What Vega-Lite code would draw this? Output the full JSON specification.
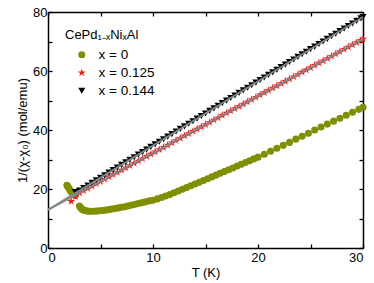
{
  "$schema": "https://vega.github.io/schema/vega-lite/v6.json",
  "width": 315,
  "height": 236,
  "autosize": {"type": "none"},
  "padding": {"left": 48, "top": 12, "right": 11, "bottom": 35},
  "config": {
    "font": "Liberation Sans",
    "view": {"stroke": null},
    "axis": {"domainColor": "black", "domainWidth": 1.5, "tickColor": "black", "tickWidth": 1.3, "labelColor": "black", "titleColor": "black", "labelFontSize": 13, "titleFontSize": 13, "titleFontWeight": "normal", "grid": false}
  },
  "datasets": {
    "fit": [
      {"T": 0, "v": 12.9, "f": "a"}, {"T": 30, "v": 78.3, "f": "a"},
      {"T": 0, "v": 12.9, "f": "b"}, {"T": 30, "v": 70.8, "f": "b"}
    ],
    "pts": [
      {"T": 1.8, "v": 21.3, "s": "x = 0"}, {"T": 1.9, "v": 20.8, "s": "x = 0"}, {"T": 2.0, "v": 20.2, "s": "x = 0"}, {"T": 2.1, "v": 19.6, "s": "x = 0"}, {"T": 2.2, "v": 19.1, "s": "x = 0"}, {"T": 2.3, "v": 18.7, "s": "x = 0"}, {"T": 2.4, "v": 18.4, "s": "x = 0"}, {"T": 2.5, "v": 18.1, "s": "x = 0"}, {"T": 2.6, "v": 17.8, "s": "x = 0"},
      {"T": 3.0, "v": 14.2, "s": "x = 0"}, {"T": 3.1, "v": 13.7, "s": "x = 0"}, {"T": 3.2, "v": 13.3, "s": "x = 0"}, {"T": 3.3, "v": 13.0, "s": "x = 0"}, {"T": 3.45, "v": 12.8, "s": "x = 0"}, {"T": 3.6, "v": 12.6, "s": "x = 0"}, {"T": 3.8, "v": 12.5, "s": "x = 0"}, {"T": 4.0, "v": 12.45, "s": "x = 0"}, {"T": 4.3, "v": 12.45, "s": "x = 0"}, {"T": 4.6, "v": 12.5, "s": "x = 0"}, {"T": 4.9, "v": 12.6, "s": "x = 0"}, {"T": 5.2, "v": 12.7, "s": "x = 0"}, {"T": 5.5, "v": 12.85, "s": "x = 0"}, {"T": 5.8, "v": 13.0, "s": "x = 0"}, {"T": 6.1, "v": 13.2, "s": "x = 0"}, {"T": 6.4, "v": 13.4, "s": "x = 0"}, {"T": 6.7, "v": 13.6, "s": "x = 0"}, {"T": 7.0, "v": 13.8, "s": "x = 0"}, {"T": 7.3, "v": 14.0, "s": "x = 0"}, {"T": 7.6, "v": 14.25, "s": "x = 0"}, {"T": 7.9, "v": 14.5, "s": "x = 0"}, {"T": 8.2, "v": 14.75, "s": "x = 0"}, {"T": 8.5, "v": 15.0, "s": "x = 0"}, {"T": 8.8, "v": 15.25, "s": "x = 0"}, {"T": 9.1, "v": 15.5, "s": "x = 0"}, {"T": 9.4, "v": 15.75, "s": "x = 0"}, {"T": 9.7, "v": 16.0, "s": "x = 0"}, {"T": 10.0, "v": 16.2, "s": "x = 0"}, {"T": 10.4, "v": 16.65, "s": "x = 0"}, {"T": 10.8, "v": 17.1, "s": "x = 0"}, {"T": 11.2, "v": 17.6, "s": "x = 0"}, {"T": 11.6, "v": 18.1, "s": "x = 0"}, {"T": 12.0, "v": 18.7, "s": "x = 0"}, {"T": 12.4, "v": 19.3, "s": "x = 0"}, {"T": 12.8, "v": 19.9, "s": "x = 0"}, {"T": 13.2, "v": 20.5, "s": "x = 0"}, {"T": 13.6, "v": 21.1, "s": "x = 0"}, {"T": 14.0, "v": 21.7, "s": "x = 0"}, {"T": 14.4, "v": 22.3, "s": "x = 0"}, {"T": 14.8, "v": 22.9, "s": "x = 0"}, {"T": 15.2, "v": 23.5, "s": "x = 0"}, {"T": 15.6, "v": 24.1, "s": "x = 0"}, {"T": 16.0, "v": 24.7, "s": "x = 0"}, {"T": 16.4, "v": 25.3, "s": "x = 0"}, {"T": 16.8, "v": 25.9, "s": "x = 0"}, {"T": 17.2, "v": 26.5, "s": "x = 0"}, {"T": 17.6, "v": 27.1, "s": "x = 0"}, {"T": 18.0, "v": 27.8, "s": "x = 0"}, {"T": 18.4, "v": 28.4, "s": "x = 0"}, {"T": 18.8, "v": 29.0, "s": "x = 0"}, {"T": 19.2, "v": 29.6, "s": "x = 0"}, {"T": 19.6, "v": 30.2, "s": "x = 0"}, {"T": 20.0, "v": 30.8, "s": "x = 0"}, {"T": 20.6, "v": 31.8, "s": "x = 0"}, {"T": 21.2, "v": 32.8, "s": "x = 0"}, {"T": 21.8, "v": 33.8, "s": "x = 0"}, {"T": 22.4, "v": 34.8, "s": "x = 0"}, {"T": 23.0, "v": 35.8, "s": "x = 0"}, {"T": 23.6, "v": 36.9, "s": "x = 0"}, {"T": 24.2, "v": 37.9, "s": "x = 0"}, {"T": 24.8, "v": 38.9, "s": "x = 0"}, {"T": 25.4, "v": 40.0, "s": "x = 0"}, {"T": 26.0, "v": 41.0, "s": "x = 0"}, {"T": 26.6, "v": 42.0, "s": "x = 0"}, {"T": 27.2, "v": 43.0, "s": "x = 0"}, {"T": 27.8, "v": 44.0, "s": "x = 0"}, {"T": 28.4, "v": 45.0, "s": "x = 0"}, {"T": 29.0, "v": 46.0, "s": "x = 0"}, {"T": 29.6, "v": 47.0, "s": "x = 0"}, {"T": 30.0, "v": 47.7, "s": "x = 0"},

      {"T": 2.2, "v": 15.8, "s": "x = 0.125"}, {"T": 2.6, "v": 17.4, "s": "x = 0.125"}, {"T": 3.0, "v": 18.69, "s": "x = 0.125"}, {"T": 3.4, "v": 19.46, "s": "x = 0.125"}, {"T": 3.8, "v": 20.23, "s": "x = 0.125"}, {"T": 4.2, "v": 21.01, "s": "x = 0.125"}, {"T": 4.6, "v": 21.78, "s": "x = 0.125"}, {"T": 5.0, "v": 22.55, "s": "x = 0.125"}, {"T": 5.4, "v": 23.32, "s": "x = 0.125"}, {"T": 5.8, "v": 24.09, "s": "x = 0.125"}, {"T": 6.2, "v": 24.87, "s": "x = 0.125"}, {"T": 6.6, "v": 25.64, "s": "x = 0.125"}, {"T": 7.0, "v": 26.41, "s": "x = 0.125"}, {"T": 7.4, "v": 27.18, "s": "x = 0.125"}, {"T": 7.8, "v": 27.95, "s": "x = 0.125"}, {"T": 8.2, "v": 28.73, "s": "x = 0.125"}, {"T": 8.6, "v": 29.5, "s": "x = 0.125"}, {"T": 9.0, "v": 30.27, "s": "x = 0.125"}, {"T": 9.4, "v": 31.04, "s": "x = 0.125"}, {"T": 9.8, "v": 31.81, "s": "x = 0.125"}, {"T": 10.2, "v": 32.59, "s": "x = 0.125"}, {"T": 10.6, "v": 33.36, "s": "x = 0.125"}, {"T": 11.0, "v": 34.13, "s": "x = 0.125"}, {"T": 11.4, "v": 34.9, "s": "x = 0.125"}, {"T": 11.8, "v": 35.67, "s": "x = 0.125"}, {"T": 12.2, "v": 36.45, "s": "x = 0.125"}, {"T": 12.6, "v": 37.22, "s": "x = 0.125"}, {"T": 13.0, "v": 37.99, "s": "x = 0.125"}, {"T": 13.4, "v": 38.76, "s": "x = 0.125"}, {"T": 13.8, "v": 39.53, "s": "x = 0.125"}, {"T": 14.2, "v": 40.31, "s": "x = 0.125"}, {"T": 14.6, "v": 41.08, "s": "x = 0.125"}, {"T": 15.0, "v": 41.85, "s": "x = 0.125"}, {"T": 15.4, "v": 42.62, "s": "x = 0.125"}, {"T": 15.8, "v": 43.39, "s": "x = 0.125"}, {"T": 16.2, "v": 44.17, "s": "x = 0.125"}, {"T": 16.6, "v": 44.94, "s": "x = 0.125"}, {"T": 17.0, "v": 45.71, "s": "x = 0.125"}, {"T": 17.4, "v": 46.48, "s": "x = 0.125"}, {"T": 17.8, "v": 47.25, "s": "x = 0.125"}, {"T": 18.2, "v": 48.03, "s": "x = 0.125"}, {"T": 18.6, "v": 48.8, "s": "x = 0.125"}, {"T": 19.0, "v": 49.57, "s": "x = 0.125"}, {"T": 19.4, "v": 50.34, "s": "x = 0.125"}, {"T": 19.8, "v": 51.11, "s": "x = 0.125"}, {"T": 20.2, "v": 51.89, "s": "x = 0.125"}, {"T": 20.6, "v": 52.66, "s": "x = 0.125"}, {"T": 21.0, "v": 53.43, "s": "x = 0.125"}, {"T": 21.4, "v": 54.2, "s": "x = 0.125"}, {"T": 21.8, "v": 54.97, "s": "x = 0.125"}, {"T": 22.2, "v": 55.75, "s": "x = 0.125"}, {"T": 22.6, "v": 56.52, "s": "x = 0.125"}, {"T": 23.0, "v": 57.29, "s": "x = 0.125"}, {"T": 23.4, "v": 58.06, "s": "x = 0.125"}, {"T": 23.8, "v": 58.83, "s": "x = 0.125"}, {"T": 24.2, "v": 59.61, "s": "x = 0.125"}, {"T": 24.6, "v": 60.38, "s": "x = 0.125"}, {"T": 25.0, "v": 61.15, "s": "x = 0.125"}, {"T": 25.4, "v": 61.92, "s": "x = 0.125"}, {"T": 25.8, "v": 62.69, "s": "x = 0.125"}, {"T": 26.2, "v": 63.47, "s": "x = 0.125"}, {"T": 26.6, "v": 64.24, "s": "x = 0.125"}, {"T": 27.0, "v": 65.01, "s": "x = 0.125"}, {"T": 27.4, "v": 65.78, "s": "x = 0.125"}, {"T": 27.8, "v": 66.55, "s": "x = 0.125"}, {"T": 28.2, "v": 67.33, "s": "x = 0.125"}, {"T": 28.6, "v": 68.1, "s": "x = 0.125"}, {"T": 29.0, "v": 68.87, "s": "x = 0.125"}, {"T": 29.4, "v": 69.64, "s": "x = 0.125"}, {"T": 29.8, "v": 70.41, "s": "x = 0.125"}, {"T": 30.0, "v": 70.8, "s": "x = 0.125"},

      {"T": 2.6, "v": 19.0, "s": "x = 0.144"}, {"T": 3.0, "v": 19.44, "s": "x = 0.144"}, {"T": 3.4, "v": 20.31, "s": "x = 0.144"}, {"T": 3.8, "v": 21.18, "s": "x = 0.144"}, {"T": 4.2, "v": 22.06, "s": "x = 0.144"}, {"T": 4.6, "v": 22.93, "s": "x = 0.144"}, {"T": 5.0, "v": 23.8, "s": "x = 0.144"}, {"T": 5.4, "v": 24.67, "s": "x = 0.144"}, {"T": 5.8, "v": 25.54, "s": "x = 0.144"}, {"T": 6.2, "v": 26.42, "s": "x = 0.144"}, {"T": 6.6, "v": 27.29, "s": "x = 0.144"}, {"T": 7.0, "v": 28.16, "s": "x = 0.144"}, {"T": 7.4, "v": 29.03, "s": "x = 0.144"}, {"T": 7.8, "v": 29.9, "s": "x = 0.144"}, {"T": 8.2, "v": 30.78, "s": "x = 0.144"}, {"T": 8.6, "v": 31.65, "s": "x = 0.144"}, {"T": 9.0, "v": 32.52, "s": "x = 0.144"}, {"T": 9.4, "v": 33.39, "s": "x = 0.144"}, {"T": 9.8, "v": 34.26, "s": "x = 0.144"}, {"T": 10.2, "v": 35.14, "s": "x = 0.144"}, {"T": 10.6, "v": 36.01, "s": "x = 0.144"}, {"T": 11.0, "v": 36.88, "s": "x = 0.144"}, {"T": 11.4, "v": 37.75, "s": "x = 0.144"}, {"T": 11.8, "v": 38.62, "s": "x = 0.144"}, {"T": 12.2, "v": 39.5, "s": "x = 0.144"}, {"T": 12.6, "v": 40.37, "s": "x = 0.144"}, {"T": 13.0, "v": 41.24, "s": "x = 0.144"}, {"T": 13.4, "v": 42.11, "s": "x = 0.144"}, {"T": 13.8, "v": 42.98, "s": "x = 0.144"}, {"T": 14.2, "v": 43.86, "s": "x = 0.144"}, {"T": 14.6, "v": 44.73, "s": "x = 0.144"}, {"T": 15.0, "v": 45.6, "s": "x = 0.144"}, {"T": 15.4, "v": 46.47, "s": "x = 0.144"}, {"T": 15.8, "v": 47.34, "s": "x = 0.144"}, {"T": 16.2, "v": 48.22, "s": "x = 0.144"}, {"T": 16.6, "v": 49.09, "s": "x = 0.144"}, {"T": 17.0, "v": 49.96, "s": "x = 0.144"}, {"T": 17.4, "v": 50.83, "s": "x = 0.144"}, {"T": 17.8, "v": 51.7, "s": "x = 0.144"}, {"T": 18.2, "v": 52.58, "s": "x = 0.144"}, {"T": 18.6, "v": 53.45, "s": "x = 0.144"}, {"T": 19.0, "v": 54.32, "s": "x = 0.144"}, {"T": 19.4, "v": 55.19, "s": "x = 0.144"}, {"T": 19.8, "v": 56.06, "s": "x = 0.144"}, {"T": 20.2, "v": 56.94, "s": "x = 0.144"}, {"T": 20.6, "v": 57.81, "s": "x = 0.144"}, {"T": 21.0, "v": 58.68, "s": "x = 0.144"}, {"T": 21.4, "v": 59.55, "s": "x = 0.144"}, {"T": 21.8, "v": 60.42, "s": "x = 0.144"}, {"T": 22.2, "v": 61.3, "s": "x = 0.144"}, {"T": 22.6, "v": 62.17, "s": "x = 0.144"}, {"T": 23.0, "v": 63.04, "s": "x = 0.144"}, {"T": 23.4, "v": 63.91, "s": "x = 0.144"}, {"T": 23.8, "v": 64.78, "s": "x = 0.144"}, {"T": 24.2, "v": 65.66, "s": "x = 0.144"}, {"T": 24.6, "v": 66.53, "s": "x = 0.144"}, {"T": 25.0, "v": 67.4, "s": "x = 0.144"}, {"T": 25.4, "v": 68.27, "s": "x = 0.144"}, {"T": 25.8, "v": 69.14, "s": "x = 0.144"}, {"T": 26.2, "v": 70.02, "s": "x = 0.144"}, {"T": 26.6, "v": 70.89, "s": "x = 0.144"}, {"T": 27.0, "v": 71.76, "s": "x = 0.144"}, {"T": 27.4, "v": 72.63, "s": "x = 0.144"}, {"T": 27.8, "v": 73.5, "s": "x = 0.144"}, {"T": 28.2, "v": 74.38, "s": "x = 0.144"}, {"T": 28.6, "v": 75.25, "s": "x = 0.144"}, {"T": 29.0, "v": 76.12, "s": "x = 0.144"}, {"T": 29.4, "v": 76.99, "s": "x = 0.144"}, {"T": 29.8, "v": 77.86, "s": "x = 0.144"}, {"T": 30.0, "v": 78.3, "s": "x = 0.144"}
    ]
  },
  "layer": [
    {
      "data": {"name": "pts"},
      "mark": {"type": "point", "filled": true, "opacity": 1, "size": 50, "strokeWidth": 0},
      "encoding": {
        "x": {"field": "T", "type": "quantitative", "scale": {"domain": [0, 30], "nice": false},
          "axis": {"orient": "bottom", "title": "T (K)", "values": [0, 5, 10, 15, 20, 25, 30], "labelExpr": "datum.value % 10 == 0 ? datum.label : ''", "tickSize": -4, "labelPadding": 7, "titlePadding": 2}},
        "y": {"field": "v", "type": "quantitative", "scale": {"domain": [0, 80], "nice": false},
          "axis": {"orient": "left", "title": "1/(χ-χ₀) (mol/emu)", "values": [0, 10, 20, 30, 40, 50, 60, 70, 80], "labelExpr": "datum.value % 20 == 0 ? datum.label : ''", "tickSize": -4, "labelPadding": 5, "titlePadding": 3}},
        "color": {"field": "s", "type": "nominal",
          "scale": {"domain": ["x = 0", "x = 0.125", "x = 0.144"], "range": ["#7f8f00", "#ff1a1a", "#000000"]},
          "legend": {"title": "CePd₁₋ₓNiₓAl", "orient": "none", "legendX": 17, "legendY": 17, "titleFontSize": 13, "titleFontWeight": "normal", "titleColor": "black", "labelFontSize": 13.5, "labelColor": "black", "symbolOffset": 10, "labelOffset": 10, "rowPadding": 3, "titlePadding": 6, "symbolSize": 50}},
        "shape": {"field": "s", "type": "nominal",
          "scale": {"domain": ["x = 0", "x = 0.125", "x = 0.144"], "range": ["circle", "M0,-1.2L0.269,-0.371L1.141,-0.371L0.436,0.142L0.706,0.971L0,0.458L-0.706,0.971L-0.436,0.142L-1.141,-0.371L-0.269,-0.371Z", "triangle-down"]}}
      }
    },
    {
      "data": {"name": "fit"},
      "mark": {"type": "line", "color": "#7f8a8a", "strokeWidth": 2},
      "encoding": {
        "x": {"field": "T", "type": "quantitative", "axis": {"orient": "top", "title": null, "labels": false, "values": [0, 5, 10, 15, 20, 25, 30], "tickSize": -4}},
        "y": {"field": "v", "type": "quantitative", "axis": {"orient": "right", "title": null, "labels": false, "values": [0, 10, 20, 30, 40, 50, 60, 70, 80], "tickSize": -4}},
        "detail": {"field": "f"}
      }
    }
  ],
  "resolve": {"axis": {"x": "independent", "y": "independent"}}
}
